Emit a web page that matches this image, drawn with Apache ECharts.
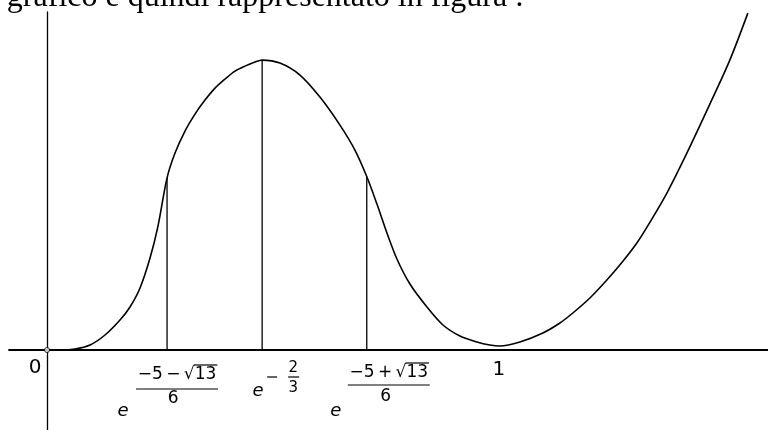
<!DOCTYPE html>
<html>
<head>
<meta charset="utf-8">
<script src="https://cdn.jsdelivr.net/npm/echarts/dist/echarts.min.js"></script>
<style>
html, body { margin: 0; padding: 0; background: #fff; }
#chart { width: 768px; height: 430px; }
</style>
</head>
<body>
<div id="chart"></div>
<script>
// curve (schematic units: x = 1 at the "1" mark, y = 1 at the maximum)
const curveX = [0, 0.0287, 0.0618, 0.0949, 0.1280, 0.1611, 0.1832, 0.2053, 0.2274, 0.2450, 0.2649,
    0.2826, 0.3046, 0.3267, 0.3488, 0.3709, 0.3929, 0.4150, 0.4371, 0.4592, 0.4746,
    0.5143, 0.5585, 0.6026, 0.6468, 0.6799, 0.7064, 0.7285, 0.7506, 0.7726, 0.8013, 0.8389, 0.8742,
    0.9117, 0.9492, 0.9779, 1.0000, 1.0442, 1.0949, 1.1325, 1.1611, 1.1987, 1.2362, 1.2693, 1.3024,
    1.3355, 1.3687, 1.4128, 1.4636, 1.5077, 1.5475];
const curveY = [0, 0, 0.0034, 0.0172, 0.0517, 0.1034, 0.1483, 0.2138, 0.3172, 0.4276, 0.5931,
    0.6793, 0.7552, 0.8138, 0.8621, 0.9034, 0.9345, 0.9621, 0.9793, 0.9931, 1.0000,
    0.9897, 0.9483, 0.8724, 0.7759, 0.6897, 0.5966, 0.5034, 0.4034, 0.3138, 0.2276, 0.1483, 0.0862,
    0.0483, 0.0276, 0.0172, 0.0138, 0.0276, 0.0586, 0.0931, 0.1276, 0.1793, 0.2414, 0.3017, 0.3690,
    0.4517, 0.5414, 0.6793, 0.8483, 1.0000, 1.1621];

// vertical guides: abscissa and height
const guideX = [0.265, 0.475, 0.706];
const guideTop = [0.593, 1.000, 0.597];

// marked points on the x axis
const originX = 0;
const oneX = 1;
const caption = "Il grafico è quindi rappresentato in figura :";

const chart = echarts.init(document.getElementById("chart"));

const series = [
    {
        name: "f",
        type: "line",
        data: curveX.map((x, i) => [x, curveY[i]]),
        symbol: "none",
        smooth: 0.3,
        lineStyle: { color: "#000", width: 1.6 },
        z: 3,
    },
];
guideX.forEach((x, i) => {
    series.push({
        type: "line",
        data: [[x, 0], [x, guideTop[i]]],
        symbol: "none",
        lineStyle: { color: "#000", width: 1.3 },
        z: 2,
    });
});
// little hollow circle at the origin
series.push({
    type: "scatter",
    data: [[originX, 0]],
    symbol: "circle",
    symbolSize: 5,
    itemStyle: { color: "#fff", borderColor: "#000", borderWidth: 1 },
    z: 5,
});

chart.setOption({
    animation: false,
    backgroundColor: "#fff",
    grid: { left: 9, right: 0, top: 12, bottom: 0 },
    xAxis: {
        type: "value",
        min: -0.084,
        max: 1.592,
        axisLine: { onZero: true, lineStyle: { color: "#000", width: 1.8 } },
        axisTick: { show: false },
        axisLabel: { show: false },
        splitLine: { show: false },
    },
    yAxis: {
        type: "value",
        min: -0.276,
        max: 1.166,
        axisLine: { show: true, onZero: true, lineStyle: { color: "#000", width: 1.3 } },
        axisTick: { show: false },
        axisLabel: { show: false },
        splitLine: { show: false },
    },
    series: series,
});

// labels under the axis, placed from the axis scale
const numFont = "20px 'DejaVu Sans'";
const fracFont = "17px 'DejaVu Sans'";
const smallFont = "15px 'DejaVu Sans'";
const eFont = "italic 18px 'DejaVu Sans'";

const ctx = document.createElement("canvas").getContext("2d");
function measure(s, font) {
    ctx.font = font;
    return ctx.measureText(s).width;
}
function txt(x, y, s, font) {
    return {
        type: "text", x: x, y: y, z: 10,
        style: { text: s, font: font, fill: "#000", align: "center", verticalAlign: "middle",
            textAlign: "center", textVerticalAlign: "middle" },
    };
}
function seg(x1, y1, x2, y2) {
    return { type: "line", z: 10, shape: { x1: x1, y1: y1, x2: x2, y2: y2 },
        style: { stroke: "#000", lineWidth: 1.2 } };
}
// e^( num / 6 ) with the fraction raised above the e
function expFrac(p, num, cdx, numDy, barDy, denDx, denDy, eDx, eDy) {
    const cx = p[0] + cdx;
    const w = measure(num, fracFont);
    const w13 = measure("13", fracFont);
    const ny = p[1] + numDy;
    return [
        txt(cx, ny, num, fracFont),
        seg(cx + w / 2 - w13 - 1, ny - 10, cx + w / 2 + 1, ny - 10),
        seg(cx - 41, p[1] + barDy, cx + 41, p[1] + barDy),
        txt(p[0] + denDx, p[1] + denDy, "6", fracFont),
        txt(p[0] + eDx, p[1] + eDy, "e", eFont),
    ];
}

const o = chart.convertToPixel({ gridIndex: 0 }, [originX, 0]);
const p1 = chart.convertToPixel({ gridIndex: 0 }, [oneX, 0]);
const pa = chart.convertToPixel({ gridIndex: 0 }, [guideX[0], 0]);
const pb = chart.convertToPixel({ gridIndex: 0 }, [guideX[1], 0]);
const pc = chart.convertToPixel({ gridIndex: 0 }, [guideX[2], 0]);

let graphics = [
    txt(o[0] - 12, o[1] + 18, "0", numFont),
    txt(p1[0] - 1, p1[1] + 20, "1", numFont),
    // e^(-2/3)
    txt(pb[0] - 4, pb[1] + 41, "e", eFont),
    seg(pb[0] + 5, pb[1] + 27, pb[0] + 15, pb[1] + 27),
    txt(pb[0] + 31, pb[1] + 18, "2", smallFont),
    seg(pb[0] + 26, pb[1] + 27, pb[0] + 37, pb[1] + 27),
    txt(pb[0] + 31, pb[1] + 38, "3", smallFont),
    // caption cut at the top of the picture
    {
        type: "text", x: 524, y: 14, z: 10,
        style: { text: caption, font: "32px 'Liberation Serif'", fill: "#000", align: "right",
            verticalAlign: "bottom", textAlign: "right", textVerticalAlign: "bottom" },
    },
];
graphics = graphics
    .concat(expFrac(pa, "\u22125\u2009\u2212\u2009\u221a13", 10, 25, 39, 6, 49, -44, 61))
    .concat(expFrac(pc, "\u22125\u2009+\u2009\u221a13", 22, 23, 35, 19, 47, -31, 61));

chart.setOption({ graphic: graphics });
</script>
</body>
</html>
